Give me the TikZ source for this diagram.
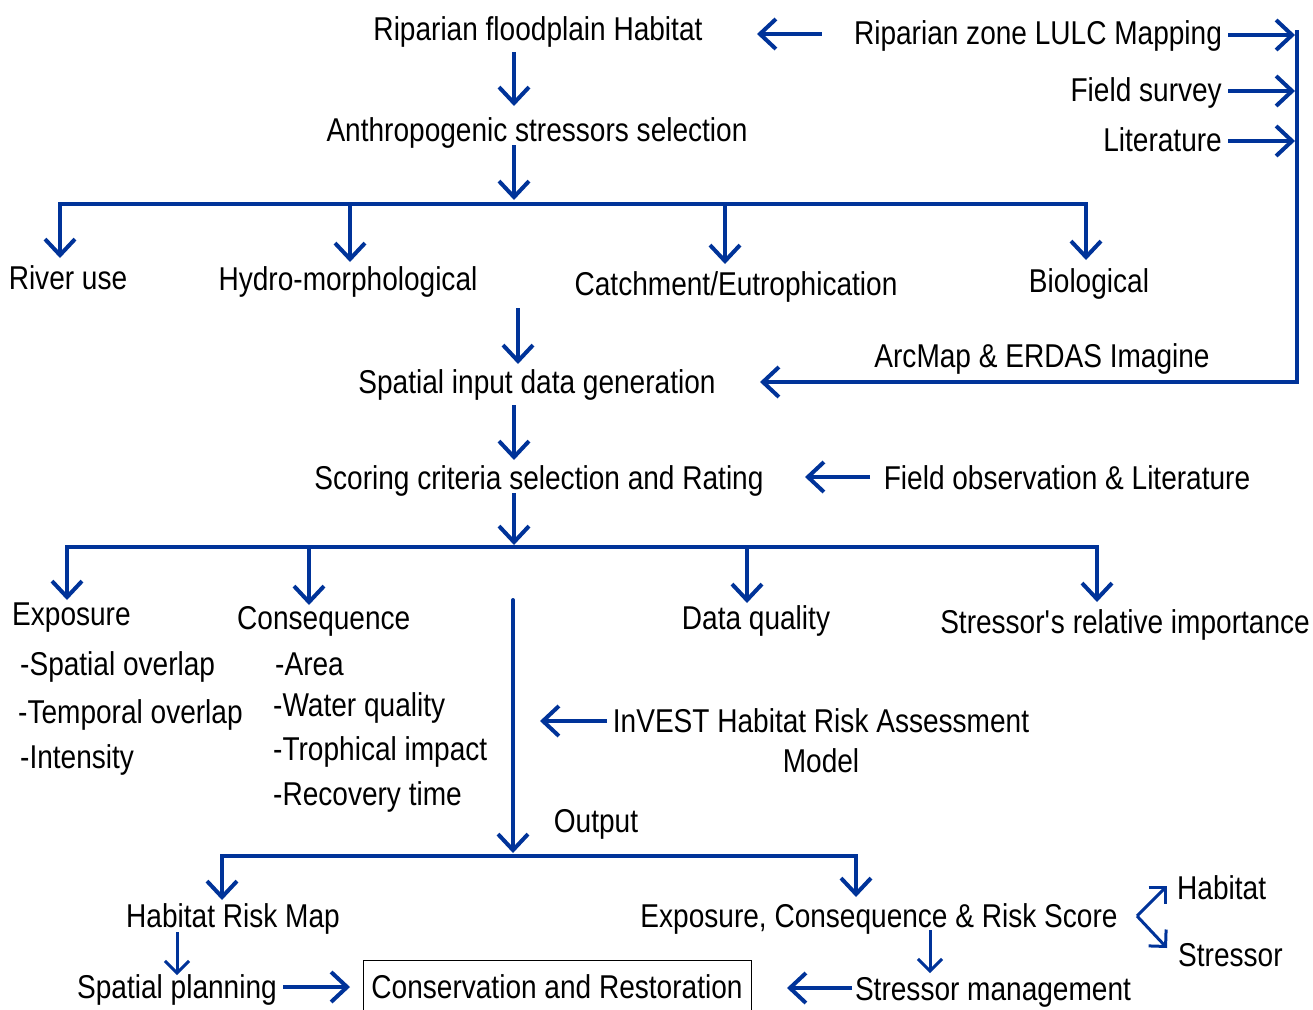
\documentclass[tikz,border=0pt]{standalone}
\usepackage{fontspec}
\setmainfont{Liberation Sans}[FakeStretch=0.85]
\usetikzlibrary{arrows.meta,calc}
\definecolor{ablue}{RGB}{0,51,153}
\begin{document}
\begin{tikzpicture}[x=1pt,y=-1pt,
  font=\fontsize{33}{40}\selectfont,
  txt/.style={inner sep=0pt,text height=30pt,text depth=8pt},
  ln/.style={draw=ablue,line width=4pt,line join=miter},
  tip/.tip={Straight Barb[length=16pt,width=30pt,line width=4pt]},
  arr/.style={ln,-tip},
  arrb/.style={ln,tip-tip},
  sarr/.style={draw=ablue,line width=3pt,-{Straight Barb[length=12pt,width=24pt,line width=3pt]}}]
\useasboundingbox (0,0) rectangle (1313,1009);
% text nodes
\node[txt] (rfh) at (538,29) {Riparian floodplain Habitat};
\node[txt] (lulc) at (1038,33) {Riparian zone LULC Mapping};
\node[txt,anchor=east] (fs) at (1222,90) {Field survey};
\node[txt,anchor=east] (lit) at (1222,140) {Literature};
\node[txt] (asel) at (537,130) {Anthropogenic stressors selection};
\node[txt] (ru) at (68,278) {River use};
\node[txt] (hm) at (348,279) {Hydro-morphological};
\node[txt] (ce) at (736,284) {Catchment/Eutrophication};
\node[txt] (bio) at (1089,281) {Biological};
\node[txt] (sidg) at (537,382) {Spatial input data generation};
\node[txt] (arc) at (1042,356) {ArcMap \& ERDAS Imagine};
\node[txt] (scr) at (539,478) {Scoring criteria selection and Rating};
\node[txt] (fol) at (1067,478) {Field observation \& Literature};
\node[txt,anchor=west] (exp) at (12,614) {Exposure};
\node[txt,anchor=west] (e1) at (20,664) {-Spatial overlap};
\node[txt,anchor=west] (e2) at (18,712) {-Temporal overlap};
\node[txt,anchor=west] (e3) at (20,757) {-Intensity};
\node[txt,anchor=west] (con) at (237,618) {Consequence};
\node[txt,anchor=west] (c1) at (275,664) {-Area};
\node[txt,anchor=west] (c2) at (273,705) {-Water quality};
\node[txt,anchor=west] (c3) at (273,749) {-Trophical impact};
\node[txt,anchor=west] (c4) at (273,794) {-Recovery time};
\node[txt] (dq) at (756,618) {Data quality};
\node[txt] (sri) at (1125,622) {Stressor\textquotesingle s relative importance};
\node[inner sep=0pt,align=center] (inv) at (821,741) {InVEST Habitat Risk Assessment\\Model};
\node[txt] (out) at (596,821) {Output};
\node[txt] (hrm) at (233,916) {Habitat Risk Map};
\node[txt] (ecr) at (879,916) {Exposure, Consequence \& Risk Score};
\node[txt] (sp) at (177,987) {Spatial planning};
\draw[black,line width=1pt] (363,960) rectangle (751,1014);
\node[txt] (cr) at (557,987) {Conservation and Restoration};
\node[txt] (sm) at (993,989) {Stressor management};
\node[txt,anchor=west] (hab) at (1177,888) {Habitat};
\node[txt,anchor=west] (str) at (1178,955) {Stressor};
% connectors
\draw[arr] (lulc.west |- 0,34) ++(-32,0) coordinate (a1) -- (757,34) coordinate (a1e);
\draw[arr] (lulc.east |- 0,35) ++(6,0) -- (1295,35) coordinate (b1);
\draw[arr] (fs.east |- 0,91) ++(6,0) -- (1295,91) coordinate (b2);
\draw[arr] (lit.east |- 0,141) ++(6,0) -- (1295,141) coordinate (b3);
\draw[arr] (1297,30) coordinate (btop) -- (1297,382) -- (825,382) -- (760,382) coordinate (sidgin);
\draw[arr] (514,52) coordinate (r1) -- (514,106) coordinate (r2);
\draw[arr] (514,145) coordinate (r3) -- (514,200) coordinate (r4);
\draw[arrb] (60,258) coordinate (ruin) -- (60,204) -- (1086,204) -- (1086,260) coordinate (bioin);
\draw[arr] (350,204) -- (350,262) coordinate (hmin);
\draw[arr] (725,204) -- (725,264) coordinate (cein);
\draw[arr] (518,308) coordinate (r5) -- (518,364) coordinate (r6);
\draw[arr] (514,405) coordinate (r7) -- (514,460) coordinate (r8);
\draw[arr] (870,477) coordinate (f1) -- (805,477) coordinate (f2);
\draw[arr] (514,493) coordinate (r9) -- (514,545) coordinate (r10);
\draw[arrb] (67,600) coordinate (expin) -- (67,547) -- (1097,547) -- (1097,602) coordinate (sriin);
\draw[arr] (309,547) -- (309,605) coordinate (conin);
\draw[arr] (747,547) -- (747,603) coordinate (dqin);
\draw[arr,line cap=round] (513,600) coordinate (m1) -- (513,853) coordinate (m2);
\draw[arr] (607,721) coordinate (i1) -- (540,721) coordinate (i2);
\draw[arrb] (222,900) coordinate (hrmin) -- (222,856) -- (856,856) -- (856,897) coordinate (ecrin);
\draw[sarr] (177,932) coordinate (h1) -- (177,975) coordinate (h2);
\draw[arr] (283,987) coordinate (s1) -- (350,987) coordinate (s2);
\draw[arr] (852,988) coordinate (s3) -- (787,988) coordinate (s4);
\draw[sarr] (930,930) coordinate (e1s) -- (930,973) coordinate (e1e);
\draw[sarr] (1137,916) coordinate (fork) -- (1167,886);
\draw[sarr] (fork) -- (1167,948);
\end{tikzpicture}
\end{document}
